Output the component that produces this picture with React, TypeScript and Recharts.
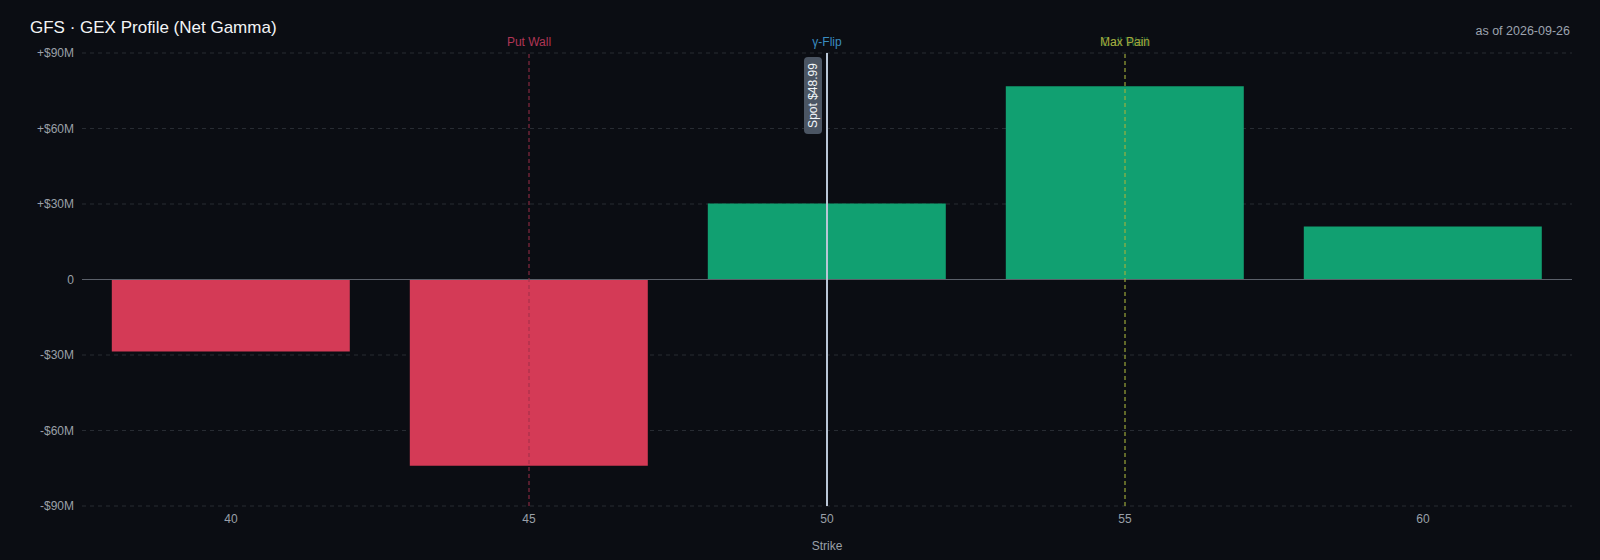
import React from 'react';
import { Bar, BarChart, CartesianGrid, Cell, ReferenceLine, XAxis, YAxis } from 'recharts';

const TICKER = 'GFS';
const AS_OF = '2026-09-26';
const SPOT = 48.99;

// strikes and net gamma exposure ($M)
const STRIKES = [40, 45, 50, 55, 60];
const NET_GEX = [-28.6, -74, 30.2, 76.8, 21.1];
const Y_TICKS = [-90, -60, -30, 0, 30, 60, 90];

const LEVELS = {
  putWall: 45,
  gammaFlip: 50,
  callWall: 55,
  maxPain: 55,
  spotStrike: 50,
};

const BG = '#0b0d13';
const POS = '#11a071';
const NEG = '#d43a56';
const AXIS = '#9aa0a8';
const FONT = '"Liberation Sans", Arial, Helvetica, sans-serif';

const rows = STRIKES.map((s, i) => ({ strike: s, gex: NET_GEX[i] }));

const fmtM = (v: number) => (v === 0 ? '0' : v > 0 ? `+$${v}M` : `-$${Math.abs(v)}M`);

function SpotTag(props: any) {
  const { x, y } = props.viewBox ?? {};
  const w = 18;
  const h = 77;
  const cx = x - 14;
  const cy = y + 4 + h / 2;
  return (
    <g>
      <rect x={x - 23} y={y + 4} width={w} height={h} rx={4} fill="#4b5563" />
      <text
        x={cx}
        y={cy}
        fill="#f1f5f9"
        fontSize={12}
        fontFamily={FONT}
        textAnchor="middle"
        dominantBaseline="central"
        transform={`rotate(-90 ${cx} ${cy})`}
      >
        {`Spot $${SPOT.toFixed(2)}`}
      </text>
    </g>
  );
}

export default function App() {
  return (
    <div
      style={{
        position: 'fixed',
        left: 0,
        top: 0,
        width: 1600,
        height: 560,
        background: BG,
        fontFamily: FONT,
      }}
    >
      <div style={{ position: 'absolute', left: 30, top: 18, color: '#f3f4f6', fontSize: 17 }}>
        {TICKER} · GEX Profile (Net Gamma)
      </div>
      <div style={{ position: 'absolute', right: 30, top: 24, color: '#9ca3af', fontSize: 12.5 }}>
        as of {AS_OF}
      </div>
      <BarChart
        width={1600}
        height={560}
        data={rows}
        margin={{ top: 53, right: 28, bottom: 8, left: 0 }}
        barCategoryGap="10%"
      >
        <CartesianGrid vertical={false} stroke="#282c33" strokeDasharray="4 4" />
        <XAxis
          dataKey="strike"
          tick={{ fill: AXIS, fontSize: 12, fontFamily: FONT }}
          tickLine={false}
          axisLine={false}
          height={46}
          label={{ value: 'Strike', position: 'insideBottom', offset: 2, fill: AXIS, fontSize: 12, fontFamily: FONT }}
        />
        <YAxis
          width={82}
          domain={[-90, 90]}
          ticks={Y_TICKS}
          tickFormatter={fmtM}
          tick={{ fill: AXIS, fontSize: 12, fontFamily: FONT }}
          tickLine={false}
          axisLine={false}
        />
        <ReferenceLine y={0} stroke="#5b606a" strokeWidth={1} />
        <Bar dataKey="gex" isAnimationActive={false}>
          {rows.map((r, i) => (
            <Cell key={i} fill={r.gex >= 0 ? POS : NEG} />
          ))}
        </Bar>
        <ReferenceLine
          x={LEVELS.putWall}
          stroke="#9e2e48"
          strokeDasharray="4 3"
          label={{ value: 'Put Wall', position: 'top', fill: '#b03555', fontSize: 12, fontFamily: FONT, offset: 7 }}
        />
        <ReferenceLine
          x={LEVELS.callWall}
          stroke="#16a34a"
          strokeOpacity={0.25}
          strokeDasharray="4 3"
          label={{ value: 'Call Wall', position: 'top', fill: '#2f9e55', fillOpacity: 0.6, fontSize: 12, fontFamily: FONT, offset: 7 }}
        />
        <ReferenceLine
          x={LEVELS.maxPain}
          stroke="#b5b33a"
          strokeDasharray="4 3"
          label={{ value: 'Max Pain', position: 'top', fill: '#a9a63a', fontSize: 12, fontFamily: FONT, offset: 7 }}
        />
        <ReferenceLine
          x={LEVELS.gammaFlip}
          stroke="#3a8cc0"
          strokeDasharray="4 3"
          label={{ value: 'γ-Flip', position: 'top', fill: '#3a8cc0', fontSize: 12, fontFamily: FONT, offset: 7 }}
        />
        <ReferenceLine x={LEVELS.spotStrike} stroke="#b9c6d6" strokeWidth={2} label={<SpotTag />} />
      </BarChart>
    </div>
  );
}
